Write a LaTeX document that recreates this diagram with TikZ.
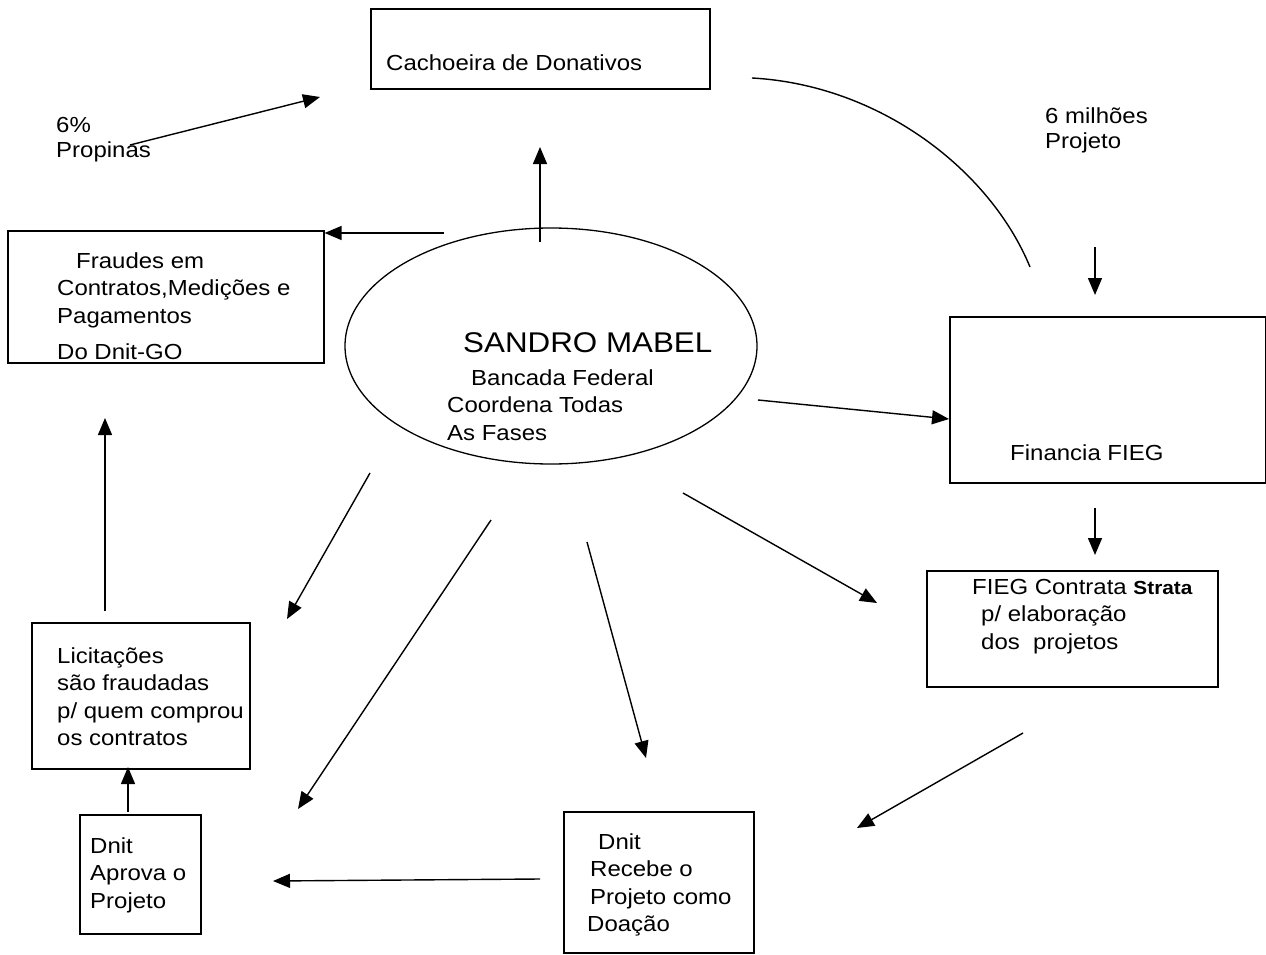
\documentclass[tikz,border=0pt]{standalone}
\usepackage{fontspec}
\usetikzlibrary{arrows.meta,shapes.geometric}
\newfontfamily\diagfont[FakeStretch=1.1]{Liberation Sans}
\newcommand\boxfont{\diagfont\fontsize{21.8}{27.5}\selectfont}
\newcommand\namefont{\diagfont\fontsize{28.5}{32}\selectfont}
\newcommand\tagfont{\diagfont\fontsize{21.8}{25}\selectfont}
\tikzset{
  panel/.style={draw,line width=1.6pt,anchor=north west,inner sep=0pt},
  txt/.style={anchor=north west,inner sep=0pt,align=left,font=\boxfont},
  tag/.style={anchor=north west,inner sep=0pt,align=left,font=\tagfont},
  flow/.style={-{Triangle[length=17pt,width=14pt]},line width=1.4pt}
}

\begin{document}
\begin{tikzpicture}[x=1pt,y=-1pt]
  \useasboundingbox (0,0) rectangle (1266,955);

  % Boxes
  \node[panel,minimum width=339pt,minimum height=80pt] (cach) at (370,8) {};
  \node[panel,minimum width=316pt,minimum height=132pt] (fraud) at (7,230) {};
  \node[panel,minimum width=316pt,minimum height=166pt] (fin) at (949,316) {};
  \node[panel,minimum width=291pt,minimum height=116pt] (fieg) at (926,570) {};
  \node[panel,minimum width=218pt,minimum height=146pt] (licit) at (31,622) {};
  \node[panel,minimum width=121pt,minimum height=119pt] (aprova) at (79,814) {};
  \node[panel,minimum width=190pt,minimum height=141pt] (recebe) at (563,811) {};
  \node[draw,ellipse,line width=1.3pt,minimum width=412pt,minimum height=236pt,inner sep=0pt] (mabel) at (551,346) {};

  % Texts
  \node[txt] (cachtxt) at (386,51) {\strut Cachoeira de Donativos};
  \node[txt] (fraudtxt) at (57,248.75) {\strut\hspace*{19pt}Fraudes em\\Contratos,Medições e\\Pagamentos\\[8.5pt]Do Dnit-GO};
  \node[anchor=base west,inner sep=0pt,font=\namefont] (mabeltxt) at (463,352) {SANDRO MABEL};
  \node[txt] (mabelsub) at (447,365.75) {\strut\hspace*{24pt}Bancada Federal\\Coordena Todas\\As Fases};
  \node[txt] (fintxt) at (1010,440.75) {\strut Financia FIEG};
  \node[txt] (fiegtxt) at (972,574.75) {\strut FIEG Contrata {\bfseries\fontsize{18.9}{27.5}\selectfont Strata}\\\hspace*{9pt}p/ elaboração\\\hspace*{9pt}dos\ \ projetos};
  \node[txt] (licittxt) at (57,643.75) {\strut Licitações\\são fraudadas\\p/ quem comprou\\os contratos};
  \node[txt] (aprovatxt) at (90,833.75) {\strut Dnit\\Aprova o\\Projeto};
  \node[txt] (recebetxt) at (587,829.75) {\strut\hspace*{11pt}Dnit\\\hspace*{3pt}Recebe o\\\hspace*{3pt}Projeto como\\Doação};
  \node[tag] (propinas) at (56,114.5) {\strut 6\%\\Propinas};
  \node[tag] (milhoes) at (1045,105.5) {\strut 6 milhões\\Projeto};

  % Arrow ends
  \coordinate (propA) at (130,145);   \coordinate (propB) at (320,97);
  \coordinate (upA) at (540,242);     \coordinate (upB) at (540,147);
  \coordinate (leftA) at (444,233);
  \coordinate (arcA) at (752,78);     \coordinate (arcB) at (1030,267);
  \coordinate (finA) at (1095,247);   \coordinate (finB) at (1095,295);
  \coordinate (sideA) at (758,400);   \coordinate (sideB) at (949,419);
  \coordinate (fiegA) at (1095,508);  \coordinate (fiegB) at (1095,555);
  \coordinate (diagA) at (683,493);   \coordinate (diagB) at (877,603);
  \coordinate (backA) at (1023,733);  \coordinate (backB) at (857,828);
  \coordinate (licA) at (370,473);    \coordinate (licB) at (287,619);
  \coordinate (aprA) at (491,520);    \coordinate (aprB) at (298,809);
  \coordinate (recA) at (587,542);    \coordinate (recB) at (646,758);
  \coordinate (doaA) at (540,879);    \coordinate (doaB) at (273,881);
  \coordinate (subA) at (128,812);    \coordinate (subB) at (128,767);
  \coordinate (fraA) at (105,611);    \coordinate (fraB) at (105,418);

  % Connectors
  \draw[flow] (propA) -- (propB);
  \draw[flow] (upA) -- (upB);
  \draw[flow] (leftA) -- ([yshift=-3pt]fraud.north east);
  \draw[line width=1.4pt] (arcA) .. controls (880,85) and (990,170) .. (arcB);
  \draw[flow] (finA) -- (finB);
  \draw[flow] (sideA) -- (sideB);
  \draw[flow] (fiegA) -- (fiegB);
  \draw[flow] (diagA) -- (diagB);
  \draw[flow] (backA) -- (backB);
  \draw[flow] (licA) -- (licB);
  \draw[flow] (aprA) -- (aprB);
  \draw[flow] (recA) -- (recB);
  \draw[flow] (doaA) -- (doaB);
  \draw[flow] (subA) -- (subB);
  \draw[flow] (fraA) -- (fraB);
\end{tikzpicture}
\end{document}
